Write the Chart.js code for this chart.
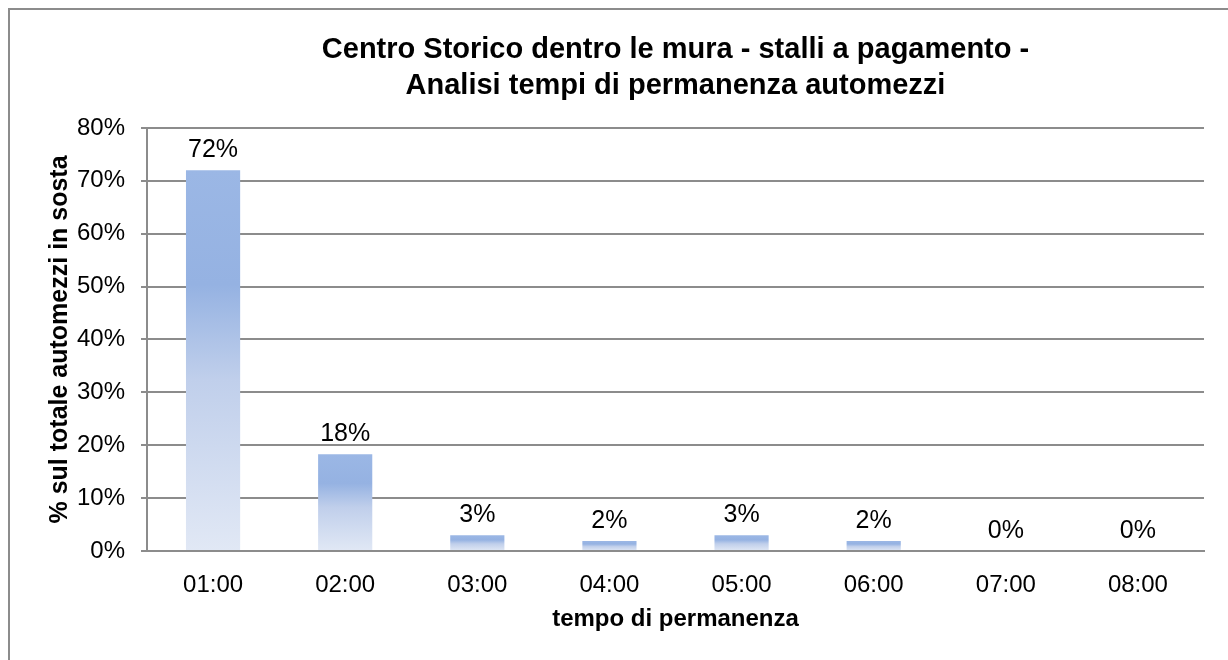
<!DOCTYPE html>
<html lang="it">
<head>
    <meta charset="UTF-8">
    <title>Centro Storico - tempi di permanenza</title>
    <script src="https://cdn.jsdelivr.net/npm/chart.js"></script>
    <style>
        html, body {
            margin: 0;
            padding: 0;
            background: #fff;
            overflow: hidden;
        }
        #frame {
            position: absolute;
            left: 8px;
            top: 8px;
            width: 1300px;
            height: 700px;
            border: 2px solid #8c8c8c;
        }
        #wrap {
            position: absolute;
            left: 0;
            top: 0;
            width: 1228px;
            height: 660px;
        }
    </style>
</head>
<body>
    <div id="frame"></div>
    <div id="wrap"><canvas id="barChart"></canvas></div>
    <script>
        // dati
        const categorie = ['01:00', '02:00', '03:00', '04:00', '05:00', '06:00', '07:00', '08:00'];
        const percentuali = [72.0, 18.3, 3.0, 1.9, 3.0, 1.9, 0, 0];
        const tickY = [0, 10, 20, 30, 40, 50, 60, 70, 80];

        const FONT = "'Liberation Sans', Arial, sans-serif";

        // gradiente verticale per ogni barra
        function coloreBarra(ctx) {
            const chart = ctx.chart;
            const y = chart.scales.y;
            if (!chart.chartArea || !y || ctx.type !== 'data') return '#95b3e3';
            const top = y.getPixelForValue(ctx.parsed.y);
            const base = y.getPixelForValue(0);
            if (base - top < 1) return '#95b3e3';
            const g = chart.ctx.createLinearGradient(0, top, 0, base);
            g.addColorStop(0, '#9bb7e5');
            g.addColorStop(0.3, '#95b2e2');
            g.addColorStop(0.55, '#c0cfeb');
            g.addColorStop(1, '#e1e8f5');
            return g;
        }

        // etichette sopra le barre
        const etichette = {
            id: 'etichette',
            afterDatasetsDraw(chart) {
                const ctx = chart.ctx;
                const meta = chart.getDatasetMeta(0);
                ctx.save();
                ctx.font = '25px ' + FONT;
                ctx.fillStyle = '#000';
                ctx.textAlign = 'center';
                ctx.textBaseline = 'alphabetic';
                meta.data.forEach((bar, i) => {
                    ctx.fillText(Math.round(percentuali[i]) + '%', bar.x, bar.y - 13);
                });
                ctx.restore();
            }
        };

        const ctx = document.getElementById('barChart').getContext('2d');
        new Chart(ctx, {
            type: 'bar',
            data: {
                labels: categorie,
                datasets: [{
                    data: percentuali,
                    backgroundColor: coloreBarra,
                    borderWidth: 0,
                    categoryPercentage: 1,
                    barPercentage: 0.41
                }]
            },
            options: {
                responsive: true,
                maintainAspectRatio: false,
                animation: false,
                layout: { padding: { left: 0, right: 24, top: 0, bottom: 0 } },
                plugins: {
                    legend: { display: false },
                    tooltip: { enabled: false },
                    title: {
                        display: true,
                        fullSize: false,
                        text: ['Centro Storico dentro le mura - stalli a pagamento -', 'Analisi tempi di permanenza automezzi'],
                        color: '#000',
                        font: { family: FONT, size: 29, weight: 'bold', lineHeight: 1.24 },
                        padding: { top: 32, bottom: 24 }
                    }
                },
                scales: {
                    x: {
                        grid: { display: false },
                        border: { display: true, color: '#8c8c8c', width: 2 },
                        ticks: { color: '#000', font: { family: FONT, size: 24 }, padding: 12, maxRotation: 0 },
                        title: {
                            display: true,
                            text: 'tempo di permanenza',
                            color: '#000',
                            font: { family: FONT, size: 24, weight: 'bold', lineHeight: 1.2 },
                            padding: { top: 0, bottom: 26 }
                        },
                        afterFit(s) { s.height = 109; }
                    },
                    y: {
                        min: 0,
                        max: 80,
                        afterBuildTicks(s) { s.ticks = tickY.map(v => ({ value: v })); },
                        grid: { color: '#8c8c8c', lineWidth: 2, tickLength: 6, drawTicks: true },
                        border: { display: true, color: '#8c8c8c', width: 2 },
                        ticks: {
                            color: '#000',
                            font: { family: FONT, size: 24 },
                            padding: 16,
                            callback: v => v + '%'
                        },
                        title: {
                            display: true,
                            text: '% sul totale automezzi in sosta',
                            color: '#000',
                            font: { family: FONT, size: 25, weight: 'bold', lineHeight: 1.2 },
                            padding: { top: 45, bottom: 0 }
                        },
                        afterFit(s) { s.width = 147; }
                    }
                }
            },
            plugins: [etichette]
        });
    </script>
</body>
</html>
